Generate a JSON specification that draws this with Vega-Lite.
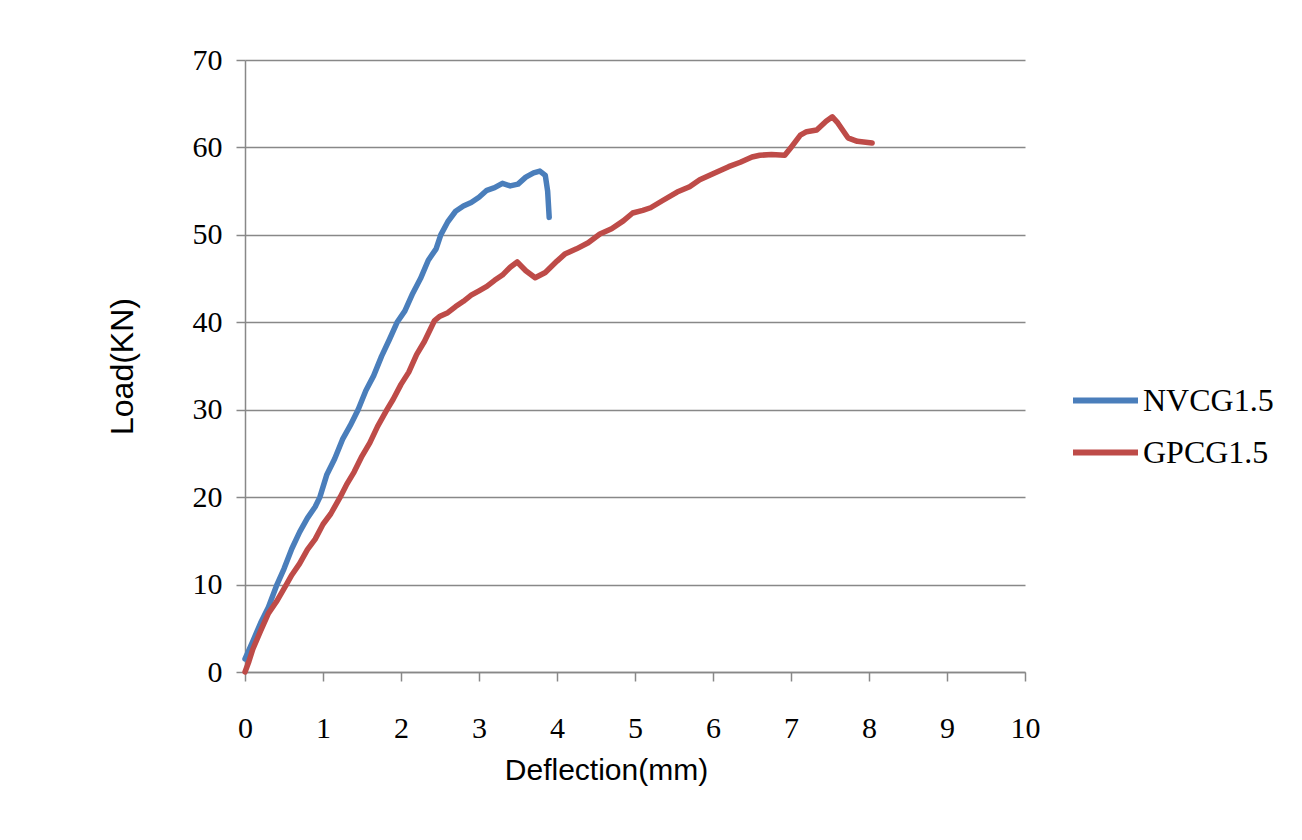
{
  "$schema": "https://vega.github.io/schema/vega-lite/v6.json",
  "autosize": "none",
  "width": 780,
  "height": 612,
  "padding": {"left": 245, "top": 60, "right": 277, "bottom": 168},
  "background": "white",
  "config": {"view": {"stroke": null}},
  "datasets": {
    "curves": [
      {"series": "NVCG1.5", "d": 0, "load": 1.5},
      {"series": "NVCG1.5", "d": 0.1, "load": 3.5},
      {"series": "NVCG1.5", "d": 0.2, "load": 5.6},
      {"series": "NVCG1.5", "d": 0.3, "load": 7.4},
      {"series": "NVCG1.5", "d": 0.41, "load": 10},
      {"series": "NVCG1.5", "d": 0.5, "load": 11.8},
      {"series": "NVCG1.5", "d": 0.6, "load": 14.1},
      {"series": "NVCG1.5", "d": 0.7, "load": 16},
      {"series": "NVCG1.5", "d": 0.8, "load": 17.6},
      {"series": "NVCG1.5", "d": 0.9, "load": 18.9},
      {"series": "NVCG1.5", "d": 0.96, "load": 20},
      {"series": "NVCG1.5", "d": 1.05, "load": 22.6},
      {"series": "NVCG1.5", "d": 1.15, "load": 24.4},
      {"series": "NVCG1.5", "d": 1.25, "load": 26.6},
      {"series": "NVCG1.5", "d": 1.35, "load": 28.2},
      {"series": "NVCG1.5", "d": 1.45, "load": 30},
      {"series": "NVCG1.5", "d": 1.55, "load": 32.2},
      {"series": "NVCG1.5", "d": 1.65, "load": 33.9},
      {"series": "NVCG1.5", "d": 1.75, "load": 36.1},
      {"series": "NVCG1.5", "d": 1.85, "load": 38},
      {"series": "NVCG1.5", "d": 1.95, "load": 40},
      {"series": "NVCG1.5", "d": 2.05, "load": 41.3},
      {"series": "NVCG1.5", "d": 2.15, "load": 43.3},
      {"series": "NVCG1.5", "d": 2.25, "load": 45},
      {"series": "NVCG1.5", "d": 2.35, "load": 47.1},
      {"series": "NVCG1.5", "d": 2.45, "load": 48.4},
      {"series": "NVCG1.5", "d": 2.51, "load": 50},
      {"series": "NVCG1.5", "d": 2.6, "load": 51.5},
      {"series": "NVCG1.5", "d": 2.7, "load": 52.7},
      {"series": "NVCG1.5", "d": 2.8, "load": 53.3},
      {"series": "NVCG1.5", "d": 2.9, "load": 53.7},
      {"series": "NVCG1.5", "d": 3.0, "load": 54.3},
      {"series": "NVCG1.5", "d": 3.1, "load": 55.1},
      {"series": "NVCG1.5", "d": 3.2, "load": 55.4},
      {"series": "NVCG1.5", "d": 3.3, "load": 55.9},
      {"series": "NVCG1.5", "d": 3.4, "load": 55.6},
      {"series": "NVCG1.5", "d": 3.5, "load": 55.8},
      {"series": "NVCG1.5", "d": 3.6, "load": 56.6},
      {"series": "NVCG1.5", "d": 3.7, "load": 57.1},
      {"series": "NVCG1.5", "d": 3.78, "load": 57.3},
      {"series": "NVCG1.5", "d": 3.85, "load": 56.8},
      {"series": "NVCG1.5", "d": 3.88, "load": 55},
      {"series": "NVCG1.5", "d": 3.9, "load": 52},
      {"series": "GPCG1.5", "d": 0, "load": 0},
      {"series": "GPCG1.5", "d": 0.05, "load": 1.2},
      {"series": "GPCG1.5", "d": 0.1, "load": 2.6},
      {"series": "GPCG1.5", "d": 0.2, "load": 4.7},
      {"series": "GPCG1.5", "d": 0.3, "load": 6.7},
      {"series": "GPCG1.5", "d": 0.4, "load": 8},
      {"series": "GPCG1.5", "d": 0.53, "load": 10},
      {"series": "GPCG1.5", "d": 0.6, "load": 11.1},
      {"series": "GPCG1.5", "d": 0.7, "load": 12.4},
      {"series": "GPCG1.5", "d": 0.8, "load": 14},
      {"series": "GPCG1.5", "d": 0.9, "load": 15.2},
      {"series": "GPCG1.5", "d": 1.0, "load": 16.9},
      {"series": "GPCG1.5", "d": 1.1, "load": 18.1},
      {"series": "GPCG1.5", "d": 1.22, "load": 20},
      {"series": "GPCG1.5", "d": 1.3, "load": 21.4},
      {"series": "GPCG1.5", "d": 1.4, "load": 22.9},
      {"series": "GPCG1.5", "d": 1.5, "load": 24.7},
      {"series": "GPCG1.5", "d": 1.6, "load": 26.2},
      {"series": "GPCG1.5", "d": 1.7, "load": 28.1},
      {"series": "GPCG1.5", "d": 1.82, "load": 30},
      {"series": "GPCG1.5", "d": 1.9, "load": 31.2},
      {"series": "GPCG1.5", "d": 2.0, "load": 32.9},
      {"series": "GPCG1.5", "d": 2.1, "load": 34.3},
      {"series": "GPCG1.5", "d": 2.2, "load": 36.3},
      {"series": "GPCG1.5", "d": 2.3, "load": 37.8},
      {"series": "GPCG1.5", "d": 2.43, "load": 40.2},
      {"series": "GPCG1.5", "d": 2.5, "load": 40.7},
      {"series": "GPCG1.5", "d": 2.6, "load": 41.1},
      {"series": "GPCG1.5", "d": 2.7, "load": 41.8},
      {"series": "GPCG1.5", "d": 2.8, "load": 42.4},
      {"series": "GPCG1.5", "d": 2.9, "load": 43.1},
      {"series": "GPCG1.5", "d": 3.0, "load": 43.6},
      {"series": "GPCG1.5", "d": 3.1, "load": 44.1},
      {"series": "GPCG1.5", "d": 3.2, "load": 44.8},
      {"series": "GPCG1.5", "d": 3.3, "load": 45.4},
      {"series": "GPCG1.5", "d": 3.4, "load": 46.3},
      {"series": "GPCG1.5", "d": 3.49, "load": 46.9},
      {"series": "GPCG1.5", "d": 3.6, "load": 45.9},
      {"series": "GPCG1.5", "d": 3.72, "load": 45.1},
      {"series": "GPCG1.5", "d": 3.85, "load": 45.7},
      {"series": "GPCG1.5", "d": 4.0, "load": 47},
      {"series": "GPCG1.5", "d": 4.1, "load": 47.8},
      {"series": "GPCG1.5", "d": 4.25, "load": 48.4},
      {"series": "GPCG1.5", "d": 4.4, "load": 49.1},
      {"series": "GPCG1.5", "d": 4.55, "load": 50.1},
      {"series": "GPCG1.5", "d": 4.7, "load": 50.7},
      {"series": "GPCG1.5", "d": 4.85, "load": 51.6},
      {"series": "GPCG1.5", "d": 4.97, "load": 52.5},
      {"series": "GPCG1.5", "d": 5.1, "load": 52.8},
      {"series": "GPCG1.5", "d": 5.2, "load": 53.1},
      {"series": "GPCG1.5", "d": 5.35, "load": 53.9},
      {"series": "GPCG1.5", "d": 5.54, "load": 54.9},
      {"series": "GPCG1.5", "d": 5.7, "load": 55.5},
      {"series": "GPCG1.5", "d": 5.83, "load": 56.3},
      {"series": "GPCG1.5", "d": 6.0, "load": 57},
      {"series": "GPCG1.5", "d": 6.2, "load": 57.8},
      {"series": "GPCG1.5", "d": 6.35, "load": 58.3},
      {"series": "GPCG1.5", "d": 6.5, "load": 58.9},
      {"series": "GPCG1.5", "d": 6.6, "load": 59.1},
      {"series": "GPCG1.5", "d": 6.75, "load": 59.2},
      {"series": "GPCG1.5", "d": 6.92, "load": 59.1},
      {"series": "GPCG1.5", "d": 7.0, "load": 60},
      {"series": "GPCG1.5", "d": 7.12, "load": 61.4},
      {"series": "GPCG1.5", "d": 7.2, "load": 61.8},
      {"series": "GPCG1.5", "d": 7.33, "load": 62},
      {"series": "GPCG1.5", "d": 7.45, "load": 63},
      {"series": "GPCG1.5", "d": 7.53, "load": 63.5},
      {"series": "GPCG1.5", "d": 7.6, "load": 62.8},
      {"series": "GPCG1.5", "d": 7.73, "load": 61.1},
      {"series": "GPCG1.5", "d": 7.85, "load": 60.7},
      {"series": "GPCG1.5", "d": 8.04, "load": 60.5}
    ]
  },
  "data": {"name": "curves"},
  "mark": {"type": "line", "strokeWidth": 5.5, "strokeCap": "round", "strokeJoin": "round", "interpolate": "linear"},
  "encoding": {
    "x": {
      "field": "d", "type": "quantitative",
      "scale": {"domain": [0, 10], "nice": false, "zero": true},
      "axis": {
        "title": "Deflection(mm)", "values": [0,1,2,3,4,5,6,7,8,9,10],
        "grid": false, "domainColor": "#888888", "domainWidth": 1.5,
        "tickColor": "#888888", "tickWidth": 1.5, "tickSize": 9,
        "labelFont": "Liberation Serif", "labelFontSize": 30, "labelColor": "#000000",
        "labelPadding": 32, "labelFlush": false, "labelOverlap": false,
        "titleFont": "Liberation Sans", "titleFontSize": 30, "titleFontWeight": "normal", "titleColor": "#000000",
        "titlePadding": 12, "titleX": 361
      }
    },
    "y": {
      "field": "load", "type": "quantitative",
      "scale": {"domain": [0, 70], "nice": false},
      "axis": {
        "title": "Load(KN)", "values": [0,10,20,30,40,50,60,70],
        "grid": true, "gridColor": "#888888", "gridWidth": 1.5,
        "domainColor": "#888888", "domainWidth": 1.5,
        "tickColor": "#888888", "tickWidth": 1.5, "tickSize": 9,
        "labelFont": "Liberation Serif", "labelFontSize": 30, "labelColor": "#000000",
        "labelPadding": 14, "labelFlush": false,
        "titleFont": "Liberation Sans", "titleFontSize": 32, "titleFontWeight": "normal", "titleColor": "#000000",
        "titlePadding": 53
      }
    },
    "color": {
      "field": "series", "type": "nominal",
      "scale": {"domain": ["NVCG1.5", "GPCG1.5"], "range": ["#4A7EBB", "#BE4B48"]},
      "legend": {
        "title": null, "orient": "none", "legendX": 825, "legendY": 305,
        "symbolType": "stroke", "symbolSize": 4225, "symbolStrokeWidth": 6,
        "labelFont": "Liberation Serif", "labelFontSize": 32, "labelColor": "#000000",
        "labelOffset": 2, "rowPadding": 0
      }
    }
  }
}
